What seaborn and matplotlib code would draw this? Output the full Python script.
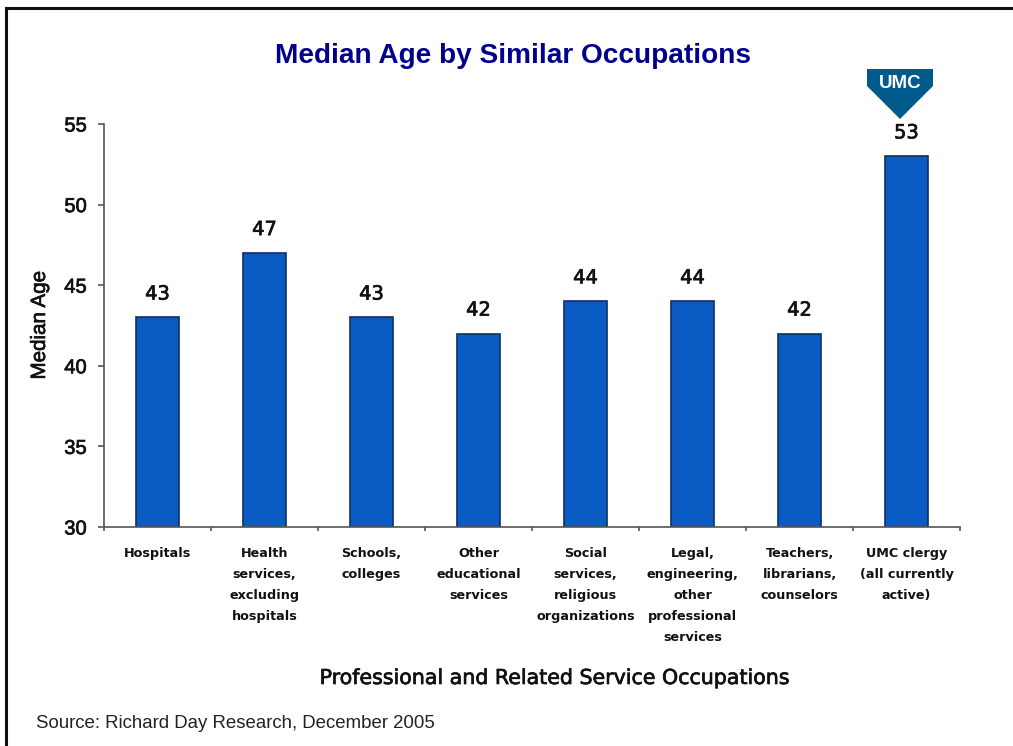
import matplotlib
matplotlib.use("Agg")
import matplotlib.pyplot as plt
import matplotlib.patheffects as pe
from matplotlib.lines import Line2D
from matplotlib.patches import Polygon
import pandas as pd
import seaborn as sns

occupations = [
    "Hospitals",
    "Health\nservices,\nexcluding\nhospitals",
    "Schools,\ncolleges",
    "Other\neducational\nservices",
    "Social\nservices,\nreligious\norganizations",
    "Legal,\nengineering,\nother\nprofessional\nservices",
    "Teachers,\nlibrarians,\ncounselors",
    "UMC clergy\n(all currently\nactive)",
]
median_age = [43, 47, 43, 42, 44, 44, 42, 53]
y_ticks = [30, 35, 40, 45, 50, 55]

W, H = 1013, 746
sns.set_theme(style="white")
plt.rcParams["font.family"] = ["Liberation Sans", "DejaVu Sans"]

fig = plt.figure(figsize=(W / 100, H / 100), dpi=100, facecolor="white")
ax = fig.add_axes([104 / W, 1 - 527 / H, 856 / W, 403 / H])

df = pd.DataFrame({"occupation": occupations, "age": median_age})
sns.barplot(data=df, x="occupation", y="age", ax=ax, color="#0A5CC4", saturation=1,
            width=0.4, edgecolor="#10305F", linewidth=1.2)

# Slightly heavier strokes for the axis text
heavy = [pe.withStroke(linewidth=0.5, foreground="#111111")]

ax.set_xlim(-0.5, 7.5)
ax.set_ylim(30, 55)
ax.set_yticks(y_ticks)
ax.set_xticks([i - 0.5 for i in range(9)], labels=[""] * 9)
ax.tick_params(axis="x", length=3, width=1.2, color="#555555", direction="out", bottom=True)
ax.tick_params(axis="y", length=4.5, width=1.2, color="#555555", direction="out", left=True,
               labelsize=14.5, labelcolor="#111111", pad=8)
for label in ax.get_yticklabels():
    label.set_path_effects(heavy)
for side in ("top", "right"):
    ax.spines[side].set_visible(False)
for side in ("left", "bottom"):
    ax.spines[side].set_color("#555555")
    ax.spines[side].set_linewidth(1.2)
ax.set_xlabel("")
ax.set_ylabel("Median Age", fontsize=14.8, color="#111111", labelpad=11, path_effects=heavy)

for i, (name, age) in enumerate(zip(occupations, median_age)):
    ax.annotate(str(age), (i, age), xytext=(0, 10), textcoords="offset points", ha="center",
                va="bottom", fontsize=14, family="DejaVu Sans", color="#111111",
                path_effects=heavy)
    ax.annotate(name, (i, 30), xytext=(0, -14.5), textcoords="offset points", ha="center",
                va="top", fontsize=9.2, family="DejaVu Sans", weight="bold",
                color="#111111", linespacing=1.8)


def px(x, y):
    return (x / W, 1 - y / H)


# Frame runs along the top and left edges only
for start, end in ((px(6, 746), px(6, 8)), (px(6, 8), px(1013, 8))):
    fig.add_artist(Line2D([start[0], end[0]], [start[1], end[1]], transform=fig.transFigure,
                          color="#111111", linewidth=2.2, solid_capstyle="projecting"))

fig.patches.append(Polygon([px(867, 69), px(933, 69), px(933, 86), px(900, 119), px(867, 86)],
                           closed=True, transform=fig.transFigure, facecolor="#005A8C",
                           edgecolor="none"))

fig.text(*px(900, 83), "UMC", color="white", fontsize=13.5, weight="bold", ha="center", va="center")
fig.text(*px(513, 56), "Median Age by Similar Occupations", color="#00008C", fontsize=20.2,
         weight="bold", ha="center", va="center")
fig.text(*px(554, 678), "Professional and Related Service Occupations", color="#111111",
         fontsize=14.8, family="DejaVu Sans", ha="center", va="center", path_effects=heavy)
fig.text(*px(36, 723), "Source: Richard Day Research, December 2005", color="#222222",
         fontsize=13.4, ha="left", va="center")

fig.savefig("out.png", dpi=100)
